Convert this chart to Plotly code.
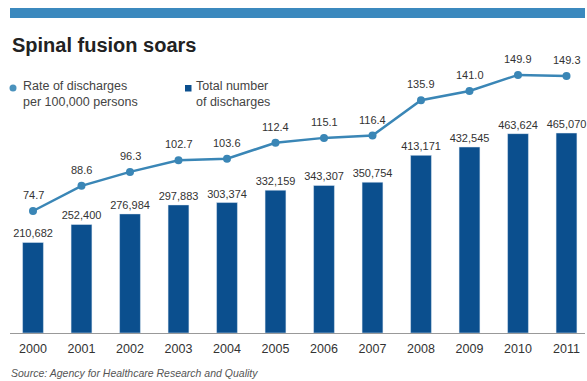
import plotly.graph_objects as go

years = ["2000", "2001", "2002", "2003", "2004", "2005", "2006", "2007", "2008", "2009", "2010", "2011"]
discharges = [210682, 252400, 276984, 297883, 303374, 332159, 343307, 350754, 413171, 432545, 463624, 465070]
rates = [74.7, 88.6, 96.3, 102.7, 103.6, 112.4, 115.1, 116.4, 135.9, 141.0, 149.9, 149.3]

W, H = 587, 381
L, R, T, B = 10, 2, 60, 48
ph = H - T - B
pw = W - L - R

def py(p):  # pixel y -> paper y
    return (H - B - p) / ph

def px(p):  # pixel x -> paper x
    return (p - L) / pw

xs = list(range(len(years)))
bar_color = "#0b4f8e"
line_color = "#3a86b6"

fig = go.Figure()
fig.add_trace(go.Bar(
    x=xs, y=discharges, width=0.43, marker_color=bar_color,
    text=[f"{v:,}" for v in discharges], textposition="outside", constraintext="none",
    textfont=dict(size=11, color="#333333", family="Liberation Sans, Arial"),
    cliponaxis=False, showlegend=False, yaxis="y",
))
fig.add_trace(go.Scatter(
    x=xs, y=rates, mode="lines+markers", yaxis="y2",
    line=dict(color=line_color, width=2.5),
    marker=dict(size=8, color=line_color),
    showlegend=False, cliponaxis=False,
))

annotations = []
for x, r in zip(xs, rates):
    annotations.append(dict(x=x, y=r, xref="x", yref="y2", text=f"{r:.1f}", showarrow=False,
                            yshift=16, font=dict(size=11, color="#333333")))

annotations += [
    dict(x=px(10), y=py(45), xref="paper", yref="paper", xanchor="left", yanchor="middle",
         text="<b>Spinal fusion soars</b>", showarrow=False,
         font=dict(size=20, color="#222222", family="Liberation Sans, Arial")),
    dict(x=px(21), y=py(94), xref="paper", yref="paper", xanchor="left", yanchor="middle",
         text="Rate of discharges<br>per 100,000 persons", showarrow=False, align="left",
         font=dict(size=12.5, color="#444444")),
    dict(x=px(194), y=py(94), xref="paper", yref="paper", xanchor="left", yanchor="middle",
         text="Total number<br>of discharges", showarrow=False, align="left",
         font=dict(size=12.5, color="#444444")),
    dict(x=px(9), y=py(373), xref="paper", yref="paper", xanchor="left", yanchor="middle",
         text="<i>Source: Agency for Healthcare Research and Quality</i>", showarrow=False,
         font=dict(size=10.5, color="#555555")),
]

shapes = [
    dict(type="rect", xref="paper", yref="paper", x0=px(10), x1=px(585), y0=py(18), y1=py(8),
         fillcolor="#3b89be", line=dict(width=0)),
    dict(type="circle", xref="paper", yref="paper", x0=px(9.5), x1=px(16.5), y0=py(91.5), y1=py(84.5),
         fillcolor="#4a92bd", line=dict(width=0)),
    dict(type="rect", xref="paper", yref="paper", x0=px(185), x1=px(191.5), y0=py(91.5), y1=py(85),
         fillcolor=bar_color, line=dict(width=0)),
]

x0v = (L - 33) / 48.5
x1v = (W - R - 33) / 48.5

fig.update_layout(
    width=W, height=H,
    margin=dict(l=L, r=R, t=T, b=B),
    paper_bgcolor="white", plot_bgcolor="white",
    font=dict(family="Liberation Sans, Arial", color="#333333"),
    xaxis=dict(range=[x0v, x1v], tickvals=xs, ticktext=years, showgrid=False, zeroline=False,
               showline=True, linecolor="#999999", linewidth=1, ticks="",
               tickfont=dict(size=12.5, color="#333333"), ticklabelstandoff=4),
    yaxis=dict(range=[0, ph / 0.00043], visible=False, showgrid=False),
    yaxis2=dict(range=[74.7 - (H - B - 211) / 1.81, 74.7 + (211 - T) / 1.81], overlaying="y",
                visible=False, showgrid=False),
    annotations=annotations, shapes=shapes,
    bargap=0.5,
)

fig.write_html("out.html")
